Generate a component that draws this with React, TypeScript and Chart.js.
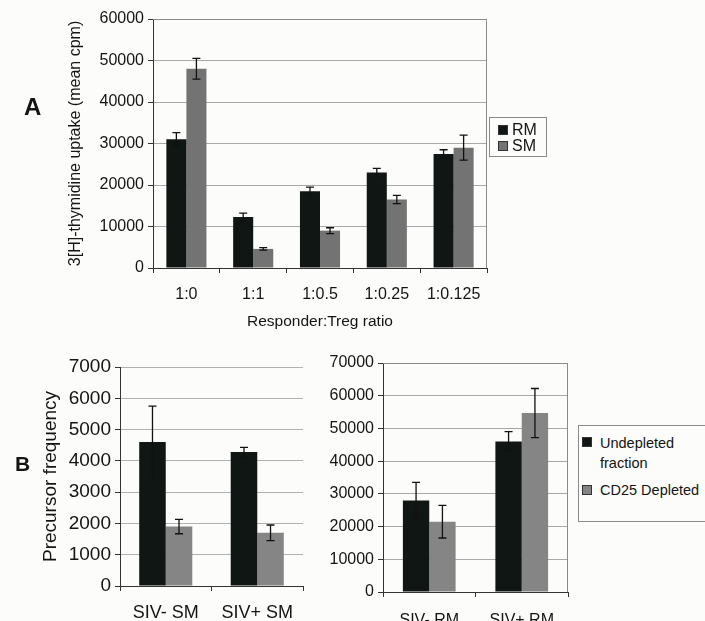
import React, { useEffect, useRef } from "react";
import { Chart, registerables } from "chart.js";

Chart.register(...registerables);

// ---------- DATA ----------
const catsA = ["1:0", "1:1", "1:0.5", "1:0.25", "1:0.125"];
const seriesNamesA = ["RM", "SM"];
const rmA = [31000, 12300, 18500, 23000, 27500];
const rmErrA = [1600, 900, 1000, 1000, 1000];
const smA = [48000, 4600, 9000, 16500, 29000];
const smErrA = [2500, 300, 700, 1000, 3000];

const seriesNamesB = ["Undepleted fraction", "CD25 Depleted"];
const catsBL = ["SIV- SM", "SIV+ SM"];
const undepBL = [4600, 4280];
const undepErrBL = [1150, 150];
const depBL = [1900, 1700];
const depErrBL = [230, 250];

const catsBR = ["SIV- RM", "SIV+ RM"];
const undepBR = [28000, 46000];
const undepErrBR = [5500, 3000];
const depBR = [21500, 54700];
const depErrBR = [5000, 7500];

const DARK = "#101614";
const GREY_A = "#737373";
const GREY_B = "#858585";
const FONT = "'Liberation Sans', Arial, sans-serif";
const TXT = "#141414";

function errorBarPlugin(errs: number[][]) {
  return {
    id: "errbars",
    afterDatasetsDraw(chart: any) {
      const ctx = chart.ctx;
      const y = chart.scales.y;
      ctx.save();
      ctx.strokeStyle = "#111";
      ctx.lineWidth = 1.3;
      chart.data.datasets.forEach((ds: any, i: number) => {
        const meta = chart.getDatasetMeta(i);
        meta.data.forEach((el: any, j: number) => {
          const v = ds.data[j];
          const e = errs[i][j];
          const yt = y.getPixelForValue(v + e);
          const yb = y.getPixelForValue(v - e);
          const x = el.x;
          ctx.beginPath();
          ctx.moveTo(x, yt);
          ctx.lineTo(x, yb);
          ctx.moveTo(x - 4, yt);
          ctx.lineTo(x + 4, yt);
          ctx.moveTo(x - 4, yb);
          ctx.lineTo(x + 4, yb);
          ctx.stroke();
        });
      });
      ctx.restore();
    },
  };
}

const framePlugin = {
  id: "frame",
  beforeDatasetsDraw(chart: any) {
    const { left, right, top, bottom } = chart.chartArea;
    const ctx = chart.ctx;
    ctx.save();
    ctx.strokeStyle = "#8a8a8a";
    ctx.lineWidth = 1;
    ctx.beginPath();
    ctx.moveTo(left, top + 0.5);
    ctx.lineTo(right - 0.5, top + 0.5);
    ctx.lineTo(right - 0.5, bottom);
    ctx.stroke();
    ctx.restore();
  },
};

function buildConfig(opts: {
  labels: string[];
  names: string[];
  data: number[][];
  colors: string[];
  errs: number[][];
  max: number;
  step: number;
  yTitle?: string;
  yTitleSize?: number;
  xTitle?: string;
  tickSize: number;
  xTickSize: number;
  xPad: number;
  yWidth: number;
  xHeight: number;
  padding: any;
  catPct: number;
  frame: boolean;
  gridColor: string;
}) {
  const plugins: any[] = [errorBarPlugin(opts.errs)];
  if (opts.frame) plugins.push(framePlugin);
  return {
    type: "bar",
    data: {
      labels: opts.labels,
      datasets: opts.data.map((d, i) => ({
        label: opts.names[i],
        data: d,
        backgroundColor: opts.colors[i],
        borderWidth: 0,
        categoryPercentage: opts.catPct,
        barPercentage: 1.0,
      })),
    },
    options: {
      responsive: false,
      animation: false,
      layout: { padding: opts.padding },
      plugins: { legend: { display: false }, tooltip: { enabled: false } },
      scales: {
        x: {
          offset: true,
          grid: {
            drawOnChartArea: false,
            drawTicks: true,
            tickLength: 5,
            offset: true,
            color: "#333",
          },
          border: { color: "#333", width: 1 },
          ticks: {
            font: { family: FONT, size: opts.xTickSize },
            color: TXT,
            padding: opts.xPad,
            maxRotation: 0,
            autoSkip: false,
          },
          title: opts.xTitle
            ? {
                display: true,
                text: opts.xTitle,
                font: { family: FONT, size: 15.5 },
                color: TXT,
                padding: { top: 2, bottom: 4 },
              }
            : { display: false },
          afterFit: (s: any) => {
            s.height = opts.xHeight;
          },
        },
        y: {
          min: 0,
          max: opts.max,
          ticks: {
            stepSize: opts.step,
            font: { family: FONT, size: opts.tickSize },
            color: TXT,
            padding: 4,
            callback: (v: any) => String(v),
          },
          grid: { color: opts.gridColor, tickLength: 5, tickColor: "#333", lineWidth: 1 },
          border: { color: "#333", width: 1 },
          title: opts.yTitle
            ? {
                display: true,
                text: opts.yTitle,
                font: { family: FONT, size: opts.yTitleSize || 13 },
                color: TXT,
                padding: { top: 4, bottom: 4 },
              }
            : { display: false },
          afterFit: (s: any) => {
            s.width = opts.yWidth;
          },
        },
      },
    },
    plugins,
  };
}

function ChartBox({ config, left, top, width, height }: any) {
  const ref = useRef<HTMLCanvasElement | null>(null);
  useEffect(() => {
    if (!ref.current) return;
    const c = new Chart(ref.current, config);
    return () => c.destroy();
  }, []);
  return (
    <canvas
      ref={ref}
      width={width}
      height={height}
      style={{ position: "absolute", left, top, width, height }}
    />
  );
}

function Swatch({ color, gap }: { color: string; gap?: number }) {
  return (
    <span
      style={{
        display: "inline-block",
        width: 8,
        height: 8,
        background: color,
        border: "1px solid #333",
        marginRight: gap ?? 4,
        verticalAlign: "middle",
        position: "relative",
        top: -1,
        flexShrink: 0,
      }}
    />
  );
}

export default function App() {
  const cfgA = buildConfig({
    labels: catsA,
    names: seriesNamesA,
    data: [rmA, smA],
    colors: [DARK, GREY_A],
    errs: [rmErrA, smErrA],
    max: 60000,
    step: 10000,
    yTitle: "3[H]-thymidine uptake (mean cpm)",
    yTitleSize: 16,
    xTitle: "Responder:Treg ratio",
    tickSize: 16,
    xTickSize: 16,
    xPad: 12,
    yWidth: 91,
    xHeight: 67,
    padding: { left: 62, top: 19, right: 8, bottom: 0 },
    catPct: 0.6,
    frame: true,
    gridColor: "#a8a8a8",
  });
  const cfgBL = buildConfig({
    labels: catsBL,
    names: seriesNamesB,
    data: [undepBL, depBL],
    colors: [DARK, GREY_B],
    errs: [undepErrBL, depErrBL],
    max: 7000,
    step: 1000,
    yTitle: "Precursor frequency",
    yTitleSize: 19,
    tickSize: 19,
    xTickSize: 18,
    xPad: 11,
    yWidth: 85,
    xHeight: 35,
    padding: { left: 35, top: 27, right: 7, bottom: 0 },
    catPct: 0.58,
    frame: false,
    gridColor: "#b0b0b0",
  });
  const cfgBR = buildConfig({
    labels: catsBR,
    names: seriesNamesB,
    data: [undepBR, depBR],
    colors: [DARK, GREY_B],
    errs: [undepErrBR, depErrBR],
    max: 70000,
    step: 10000,
    tickSize: 16,
    xTickSize: 16,
    xPad: 14,
    yWidth: 68,
    xHeight: 29,
    padding: { left: 0, top: 23, right: 7, bottom: 0 },
    catPct: 0.57,
    frame: true,
    gridColor: "#a8a8a8",
  });

  return (
    <div
      style={{
        position: "fixed",
        left: 0,
        top: 0,
        width: 705,
        height: 621,
        background: "#fcfcfa",
        overflow: "hidden",
        fontFamily: FONT,
        color: TXT,
      }}
    >
      <ChartBox config={cfgA} left={0} top={0} width={495} height={335} />
      <ChartBox config={cfgBL} left={0} top={340} width={310} height={281} />
      <ChartBox config={cfgBR} left={315} top={340} width={260} height={281} />

      <div style={{ position: "absolute", left: 24, top: 93, fontSize: 24, fontWeight: "bold" }}>A</div>
      <div style={{ position: "absolute", left: 15, top: 452, fontSize: 21, fontWeight: "bold" }}>B</div>

      <div
        style={{
          position: "absolute",
          left: 489,
          top: 117,
          width: 58,
          height: 40,
          border: "1px solid #8a8a8a",
          fontSize: 16,
          lineHeight: "16px",
          padding: "4px 0 0 8px",
          boxSizing: "border-box",
        }}
      >
        <div>
          <Swatch color={DARK} />
          {seriesNamesA[0]}
        </div>
        <div>
          <Swatch color={GREY_A} />
          {seriesNamesA[1]}
        </div>
      </div>

      <div
        style={{
          position: "absolute",
          left: 578,
          top: 425,
          width: 140,
          height: 97,
          border: "1px solid #8a8a8a",
          fontSize: 14.5,
          lineHeight: "20px",
          padding: "7px 0 0 3px",
          boxSizing: "border-box",
        }}
      >
        <div style={{ display: "flex", alignItems: "flex-start" }}>
          <span style={{ marginTop: 5, display: "inline-flex" }}>
            <Swatch color={DARK} gap={8} />
          </span>
          <span style={{ width: 85 }}>{seriesNamesB[0]}</span>
        </div>
        <div style={{ marginTop: 7, whiteSpace: "nowrap" }}>
          <Swatch color={GREY_B} gap={8} />
          {seriesNamesB[1]}
        </div>
      </div>
    </div>
  );
}
